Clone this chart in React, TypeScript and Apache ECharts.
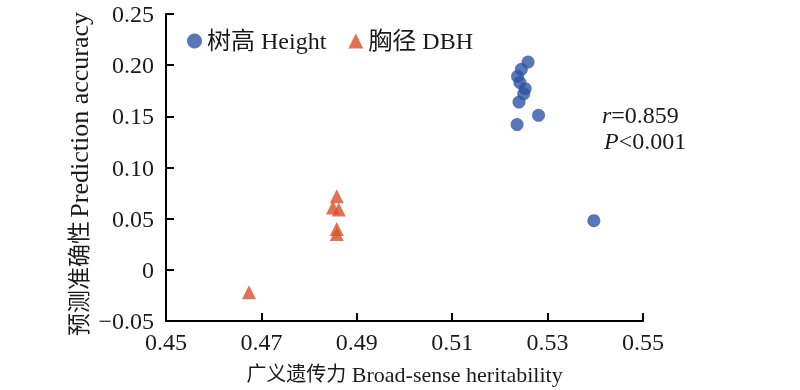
import React, { useEffect, useRef, useState } from "react";
import * as echarts from "echarts";

// Height (树高): broad-sense heritability vs prediction accuracy
const heightH2 = [0.5259, 0.5245, 0.5237, 0.5242, 0.5253, 0.525, 0.524, 0.5236, 0.5281, 0.5397];
const heightAcc = [0.203, 0.196, 0.189, 0.183, 0.177, 0.172, 0.164, 0.142, 0.151, 0.048];
// DBH (胸径)
const dbhH2 = [0.4674, 0.4858, 0.485, 0.4862, 0.4858, 0.4858];
const dbhAcc = [-0.022, 0.072, 0.061, 0.059, 0.040, 0.035];

const seriesNames = ["树高 Height", "胸径 DBH"];
const xTickValues = [0.45, 0.47, 0.49, 0.51, 0.53, 0.55];
const yTickValues = [-0.05, 0, 0.05, 0.1, 0.15, 0.2, 0.25];
const xNameCn = "广义遗传力";
const xNameEn = "Broad-sense heritability";
const yNameCn = "预测准确性";
const yNameEn = "Prediction accuracy";
const rText = "0.859";
const pText = "<0.001";

const FONT = "'Liberation Serif', 'Times New Roman', 'Noto Sans CJK SC', serif";
const INK = "#1a1a1a";
const AXIS = "#000000";

export default function App() {
  const ref = useRef<HTMLDivElement>(null);
  const [ready, setReady] = useState(false);
  useEffect(() => {
    if (!ref.current) return;
    const chart = echarts.init(ref.current, undefined, { renderer: "svg" });
    const fmt = (v: number) => {
      if (Math.abs(v) < 1e-9) return "0";
      return v.toFixed(2).replace("-", "\u2212");
    };
    const xMin = xTickValues[0];
    const xMax = xTickValues[xTickValues.length - 1];
    const yMin = yTickValues[0];
    const yMax = yTickValues[yTickValues.length - 1];
    chart.setOption({
      animation: false,
      grid: { left: 166, right: 157, top: 14, bottom: 69 },
      legend: {
        left: 182,
        top: 24,
        itemWidth: 15,
        itemHeight: 15,
        itemGap: 22,
        textStyle: { fontFamily: FONT, fontSize: 24, color: INK },
        data: [
          { name: seriesNames[0], icon: "circle" },
          { name: seriesNames[1], icon: "triangle" },
        ],
      },
      xAxis: {
        type: "value",
        min: xMin,
        max: xMax,
        interval: xTickValues[1] - xTickValues[0],
        name: "{cn|" + xNameCn + "} {en|" + xNameEn + "}",
        nameLocation: "middle",
        nameGap: 42,
        nameTextStyle: {
          fontFamily: FONT,
          fontSize: 22,
          color: INK,
          rich: {
            cn: { fontFamily: FONT, fontSize: 20, color: INK },
            en: { fontFamily: FONT, fontSize: 22, color: INK },
          },
        },
        axisLine: { show: true, onZero: false, lineStyle: { color: AXIS, width: 2 } },
        axisTick: { show: true, inside: true, length: 8, lineStyle: { color: AXIS, width: 2 } },
        axisLabel: { formatter: fmt, fontFamily: FONT, fontSize: 24, color: INK, margin: 9 },
        splitLine: { show: true, lineStyle: { color: "rgba(255,255,255,0)" } },
      },
      yAxis: {
        type: "value",
        min: yMin,
        max: yMax,
        interval: yTickValues[1] - yTickValues[0],
        axisLine: { show: true, onZero: false, lineStyle: { color: AXIS, width: 2 } },
        axisTick: { show: true, inside: true, length: 8, lineStyle: { color: AXIS, width: 2 } },
        axisLabel: { formatter: fmt, fontFamily: FONT, fontSize: 24, color: INK, margin: 12 },
        splitLine: { show: true, lineStyle: { color: "rgba(255,255,255,0)" } },
      },
      series: [
        {
          name: seriesNames[0],
          type: "scatter",
          symbol: "circle",
          symbolSize: 13,
          itemStyle: { color: "#2D55A5" },
          data: heightH2.map((x, i) => [x, heightAcc[i]]),
        },
        {
          name: seriesNames[1],
          type: "scatter",
          symbol: "triangle",
          symbolSize: 14,
          itemStyle: { color: "#DA5029" },
          data: dbhH2.map((x, i) => [x, dbhAcc[i]]),
        },
      ],
      graphic: [
        {
          type: "text",
          x: 79,
          y: 174,
          rotation: Math.PI / 2,
          style: {
            text: "{cn|" + yNameCn + "} {en|" + yNameEn + "}",
            align: "center",
            verticalAlign: "middle",
            rich: {
              cn: { fontFamily: FONT, fontSize: 23, fill: INK },
              en: { fontFamily: FONT, fontSize: 26, fill: INK },
            },
          },
        },
        {
          type: "text",
          left: 602,
          top: 103,
          style: {
            text: "{i|r}{n|=" + rText + "}",
            rich: {
              i: { fontFamily: FONT, fontSize: 24, fontStyle: "italic", fill: INK },
              n: { fontFamily: FONT, fontSize: 24, fill: INK },
            },
          },
        },
        {
          type: "text",
          left: 604,
          top: 129,
          style: {
            text: "{i|P}{n|" + pText + "}",
            rich: {
              i: { fontFamily: FONT, fontSize: 24, fontStyle: "italic", fill: INK },
              n: { fontFamily: FONT, fontSize: 24, fill: INK },
            },
          },
        },
      ],
    });
    setReady(true);
    return () => chart.dispose();
  }, []);
  return (
    <div>
      <div ref={ref} style={{ position: "fixed", left: 0, top: 0, width: 800, height: 390 }} />
      <div data-ready={ready ? "1" : "0"} style={{ position: "fixed", left: 0, top: 0, width: 1, height: 1 }} />
    </div>
  );
}
